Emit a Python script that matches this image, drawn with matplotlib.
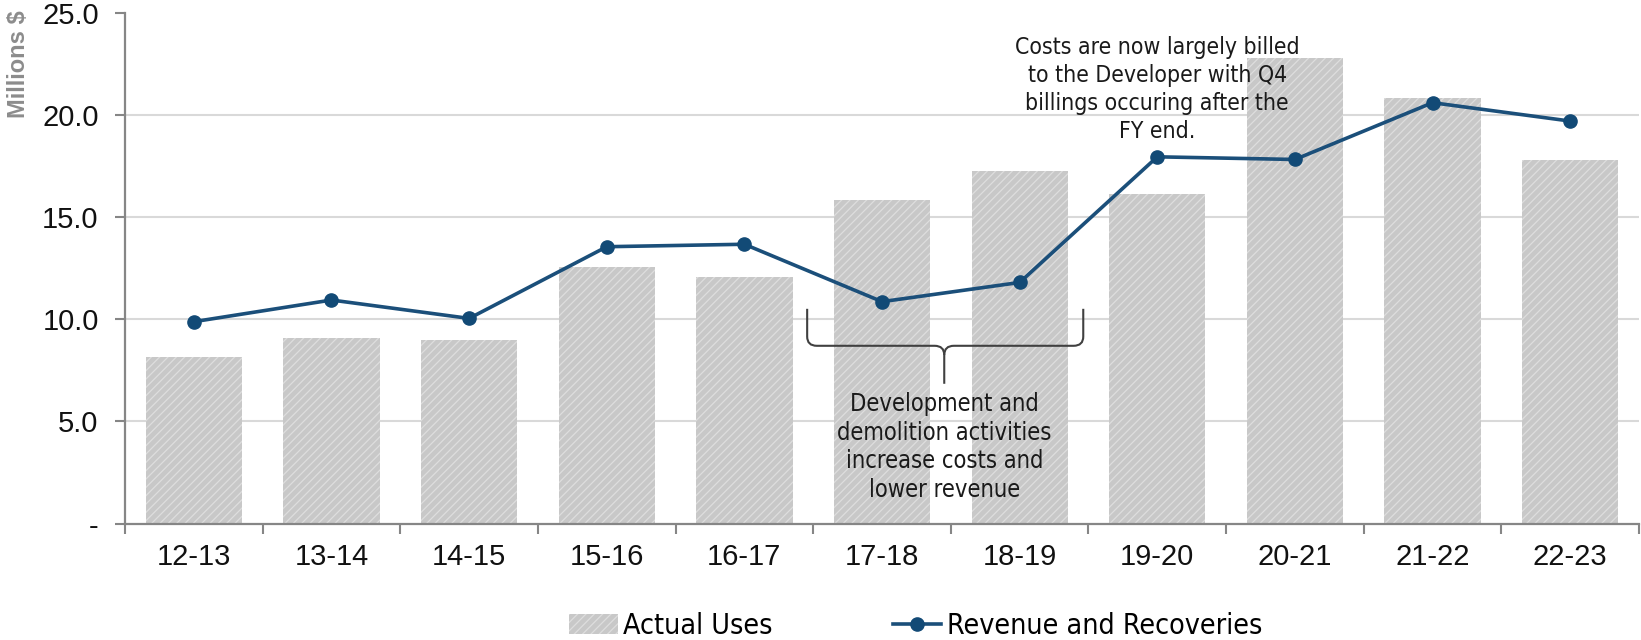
import matplotlib
matplotlib.use('Agg')
import matplotlib.pyplot as plt
from matplotlib.path import Path
from matplotlib.patches import PathPatch, Patch
from matplotlib.lines import Line2D

years = ['12-13', '13-14', '14-15', '15-16', '16-17', '17-18',
         '18-19', '19-20', '20-21', '21-22', '22-23']
actual_uses = [8.16, 9.09, 8.98, 12.54, 12.07, 15.84, 17.26, 16.14, 22.77, 20.82, 17.80]
revenue = [9.88, 10.94, 10.04, 13.55, 13.67, 10.86, 11.80, 17.95, 17.82, 20.60, 19.70]
y_ticks = [0, 5, 10, 15, 20, 25]
y_labels = ['-', '5.0', '10.0', '15.0', '20.0', '25.0']

narrow = ['Liberation Sans Narrow', 'DejaVu Sans']
plt.rcParams['font.family'] = ['Liberation Sans', 'DejaVu Sans']
plt.rcParams['hatch.linewidth'] = 0.9

fig = plt.figure(figsize=(16.41, 6.4), dpi=100)
ax = fig.add_axes([0.0762, 0.182, 0.9226, 0.798])

x = list(range(len(years)))
ax.bar(x, actual_uses, 0.7, color='#C8C8C8', edgecolor='#DEDEDE',
       linewidth=0, hatch='////', zorder=2)
ax.plot(x, revenue, color='#1B4F7A', lw=2.6, marker='o', markersize=9.5,
        markerfacecolor='#124A76', markeredgecolor='#124A76', zorder=3)

ax.set_xlim(-0.5, len(years) - 0.5)
ax.set_ylim(0, 25)
ax.set_yticks(y_ticks)
ax.set_yticklabels(y_labels)
ax.set_xticks(x)
ax.set_xticklabels(years)
ax.set_xticks([i - 0.5 for i in range(len(years) + 1)], minor=True)
ax.tick_params(axis='x', which='major', length=0, pad=14, labelsize=21, labelcolor='#111111')
ax.tick_params(axis='x', which='minor', length=7, width=1.5, color='#868686')
ax.tick_params(axis='y', length=7, width=1.5, color='#868686', pad=12,
               labelsize=21, labelcolor='#111111')

for v in y_ticks[1:-1]:
    ax.axhline(v, color='#D9D9D9', lw=1.5, zorder=1)

for s in ['top', 'right']:
    ax.spines[s].set_visible(False)
for s in ['left', 'bottom']:
    ax.spines[s].set_color('#868686')
    ax.spines[s].set_linewidth(1.6)

fig.text(0.011, 0.9, 'Millions $', rotation=90, ha='center', va='center',
         fontsize=17, fontweight='bold', color='#8C8C8C')

# brace under 17-18 / 18-19
x0, x1, xm = 4.456, 6.462, 5.452
yt, yh, ytip = 10.51, 8.70, 6.84
cx, cy = 0.07, 0.45
verts = [(x0, yt), (x0, yh + cy), (x0, yh), (x0 + cx, yh),
         (xm - cx, yh), (xm, yh), (xm, yh - cy), (xm, ytip)]
codes = [Path.MOVETO, Path.LINETO, Path.CURVE3, Path.CURVE3,
         Path.LINETO, Path.CURVE3, Path.CURVE3, Path.LINETO]
ax.add_patch(PathPatch(Path(verts, codes), fill=False, color='#404040', lw=1.5, zorder=4))
verts2 = [(x1, yt), (x1, yh + cy), (x1, yh), (x1 - cx, yh),
          (xm + cx, yh), (xm, yh), (xm, yh - cy)]
codes2 = [Path.MOVETO, Path.LINETO, Path.CURVE3, Path.CURVE3,
          Path.LINETO, Path.CURVE3, Path.CURVE3]
ax.add_patch(PathPatch(Path(verts2, codes2), fill=False, color='#404040', lw=1.5, zorder=4))

ax.text(xm, 6.45, 'Development and\ndemolition activities\nincrease costs and\nlower revenue',
        ha='center', va='top', fontsize=17, family=narrow, stretch='condensed',
        color='#1A1A1A', linespacing=1.25, zorder=5)
ax.text(7.0, 23.85, 'Costs are now largely billed\nto the Developer with Q4\nbillings occuring after the\nFY end.',
        ha='center', va='top', fontsize=16.5, family=narrow, stretch='condensed',
        color='#1A1A1A', linespacing=1.28, zorder=5)

handles = [Patch(facecolor='#C8C8C8', edgecolor='#DEDEDE', linewidth=0, hatch='////'),
           Line2D([], [], color='#1B4F7A', lw=2.6, marker='o', markersize=9.5,
                  markerfacecolor='#124A76', markeredgecolor='#124A76')]
fig.legend(handles, ['Actual Uses', 'Revenue and Recoveries'], loc='center',
           bbox_to_anchor=(0.558, 0.022), ncol=2, frameon=False,
           prop={'family': narrow, 'size': 20.5, 'stretch': 'condensed'},
           columnspacing=4.2, handlelength=1.7, handletextpad=0.2)

fig.savefig('out.png', dpi=100)
